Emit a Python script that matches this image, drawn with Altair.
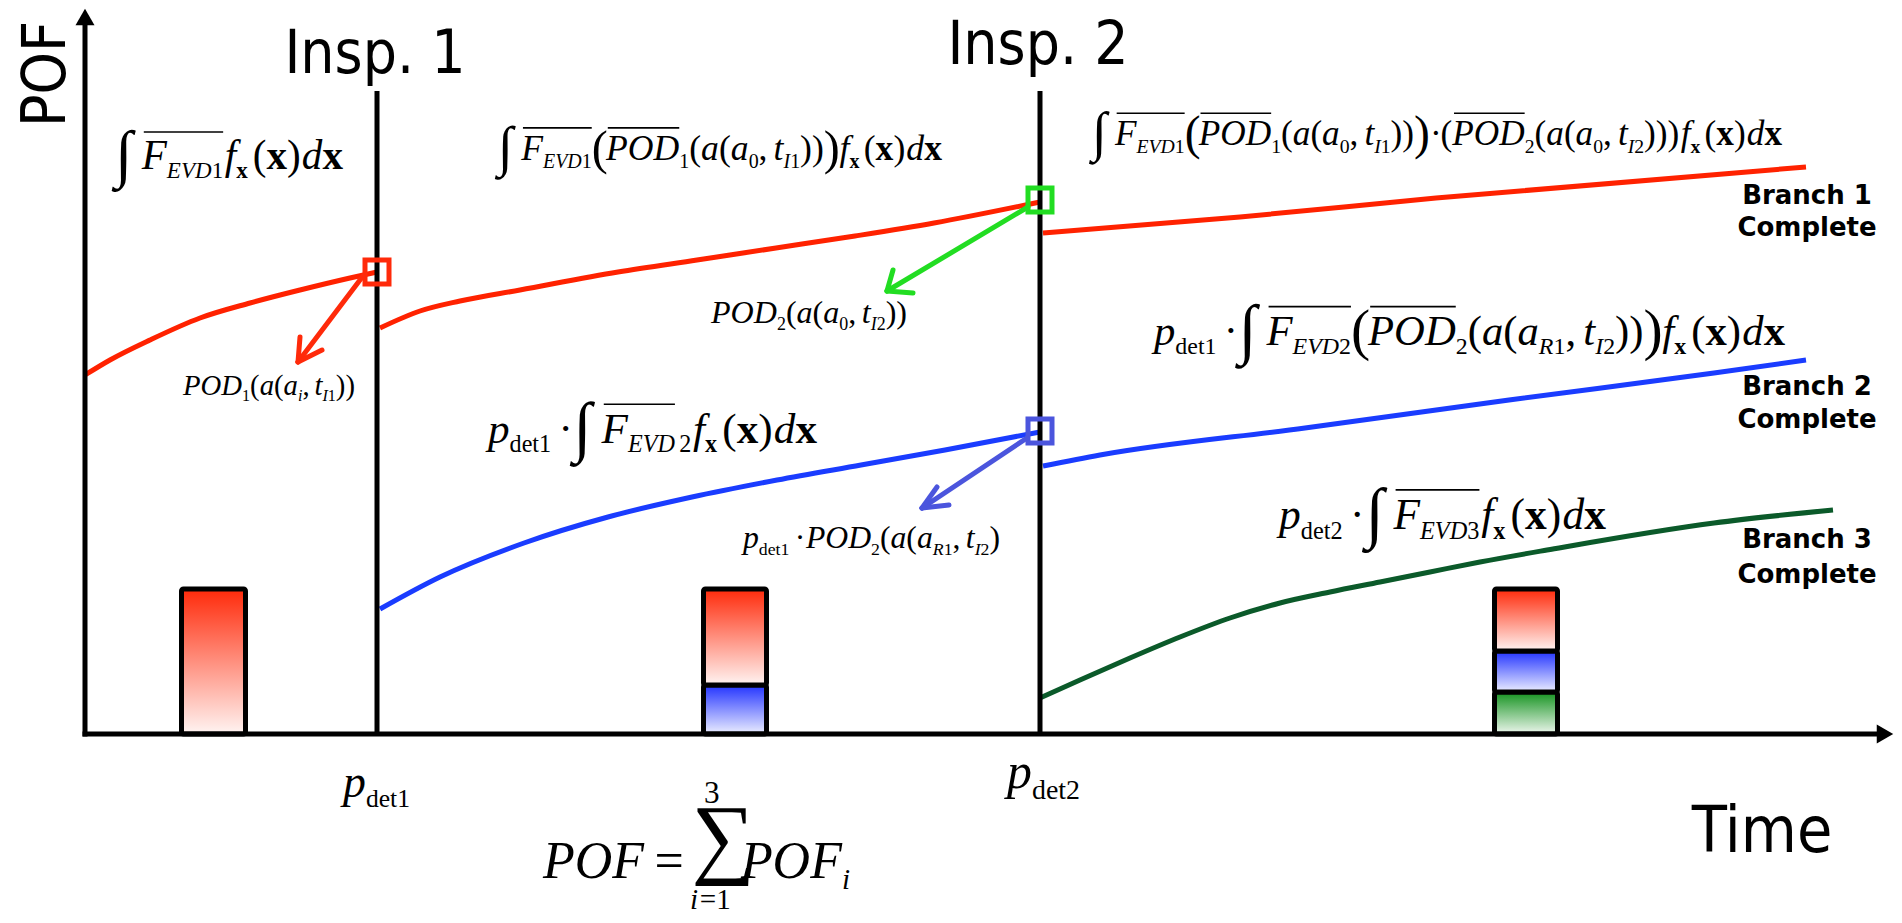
import altair as alt
import pandas as pd

# ---------------- chart frame ----------------
W, H = 1886, 907
XDOM = [-7.7, 180.9]     # time (arbitrary units)
YDOM = [-18.1, 72.6]     # POF (arbitrary units)
PXT = W / (XDOM[1] - XDOM[0])
PXP = H / (YDOM[1] - YDOM[0])

# ---------------- data ----------------
RED1_T = [0.0, 2.5, 6.5, 11.5, 16.5, 21.5, 26.5, 29.2]
RED1_P = [35.9, 37.4, 39.4, 41.6, 43.1, 44.4, 45.6, 46.2]
RED2_T = [29.5, 33.5, 37.5, 43.5, 53.3, 61.2, 69.1, 77.0, 84.9, 95.5]
RED2_P = [40.6, 42.3, 43.3, 44.4, 46.2, 47.4, 48.6, 49.8, 51.1, 53.2]
RED3_T = [95.8, 115.5, 135.1, 172.1]
RED3_P = [50.1, 51.7, 53.6, 56.7]
BLUE1_T = [29.5, 35.5, 43.9, 52.3, 60.7, 69.2, 77.6, 86.0, 95.5]
BLUE1_P = [12.5, 15.7, 19.1, 21.7, 23.7, 25.4, 26.9, 28.4, 30.2]
BLUE2_T = [95.8, 101.5, 122.0, 142.4, 162.9, 172.1]
BLUE2_P = [26.8, 27.9, 30.6, 33.4, 36.1, 37.4]
GREEN_T = [95.5, 99.5, 104.5, 109.5, 114.5, 119.5, 124.5, 129.5, 134.5, 139.5, 146.2, 162.9, 174.8]
GREEN_P = [3.6, 5.4, 7.6, 9.7, 11.6, 13.1, 14.2, 15.2, 16.2, 17.2, 18.4, 21.1, 22.4]

INSP_LABELS = ["Insp. 1", "Insp. 2"]
INSP_T = [29.2, 95.5]
INSP_TOP = 64.3
INSP_LABEL_P = [66.1, 67.0]

# stacked POF bars (green at bottom, then blue, then red)
BAR_T0 = [9.65, 61.85, 140.95]
BAR_T1 = [16.05, 68.15, 147.25]
BAR_GREEN = [0.0, 0.0, 4.2]
BAR_BLUE = [0.0, 4.9, 4.1]
BAR_RED = [14.5, 9.6, 6.2]

# marked points (squares) where the branches split
SQ_T = [29.2, 95.5, 95.5]
SQ_P = [46.2, 53.4, 30.3]
SQ_COL = ["#ff2a0a", "#22dd22", "#4b55dd"]

# arrows: start, tip, two head ends
ARROW_COL = ["#ff2a0a", "#22dd22", "#4b55dd"]
ARROW_START = [(27.8, 45.8), (94.3, 52.7), (94.2, 29.6)]
ARROW_TIP = [(21.3, 37.2), (80.2, 44.3), (83.7, 22.6)]
ARROW_H1 = [(21.5, 39.7), (80.8, 46.4), (85.2, 24.7)]
ARROW_H2 = [(23.7, 38.4), (82.8, 44.1), (86.4, 22.9)]

BRANCH_LINES = ["Branch 1", "Complete", "Branch 2", "Complete", "Branch 3", "Complete"]
BRANCH_T = 172.2
BRANCH_P = [53.0, 49.8, 33.9, 30.6, 18.6, 15.1]

# ---------------- formula typesetting helper ----------------
ROM = {'(': 333, ')': 333, ',': 250, '0': 500, '1': 500, '2': 500, '3': 500,
       'd': 500, 'e': 444, 't': 278, '=': 564, '·': 250, ' ': 250}
ITA = {'F': 611, 'E': 611, 'V': 611, 'D': 722, 'P': 611, 'O': 722, 'R': 611,
       'I': 333, 'a': 500, 'd': 500, 'f': 278, 't': 278, 'p': 500, 'i': 278, 'x': 444}
BLD = {'x': 500}
SUB = 0.56


def run_em(r):
    k = r[0]
    if k in ('r', 'i', 'b'):
        tbl = {'r': ROM, 'i': ITA, 'b': BLD}[k]
        w = sum(tbl[c] for c in r[1]) / 1000
        return w * (SUB if len(r) > 2 and r[2] else 1)
    if k == 'int':
        return 0.65
    if k == 'bp':
        return 0.40
    if k == 'sum':
        return 0.9
    if k == 'gap':
        return r[1]
    return 0.0


text_rows = []
over_rows = []


def layout(runs, t0, t1, p0):
    total = sum(run_em(r) for r in runs)
    S = (t1 - t0) * PXT / total
    t = t0
    ov = None
    for r in runs:
        k = r[0]
        w = run_em(r) * S / PXT
        if k in ('r', 'i', 'b'):
            sub = len(r) > 2 and r[2]
            text_rows.append(dict(t=t, p=p0 - (0.22 * S / PXP if sub else 0), text=r[1],
                                  size=S * (SUB if sub else 1), font=k))
        elif k == 'int':
            text_rows.append(dict(t=t, p=p0 - 0.14 * S / PXP, text='∫', size=1.55 * S, font='r'))
        elif k == 'bp':
            text_rows.append(dict(t=t, p=p0 - 0.1 * S / PXP, text=r[1], size=1.35 * S, font='r'))
        elif k == 'sum':
            text_rows.append(dict(t=t, p=p0 + 0.21 * S / PXP, text='∑', size=1.72 * S, font='r'))
            tc = t + 0.39 * S / PXT
            text_rows.append(dict(t=tc - 0.15 * S / PXT, p=p0 + 1.45 * S / PXP, text='3', size=0.6 * S, font='r'))
            s0 = tc - 0.42 * S / PXT
            pl = p0 - 0.6 * S / PXP
            text_rows.append(dict(t=s0, p=pl, text='i', size=0.56 * S, font='i'))
            text_rows.append(dict(t=s0 + 0.19 * S / PXT, p=pl, text='=1', size=0.56 * S, font='r'))
        elif k == 'ov[':
            ov = t
        elif k == 'ov]':
            over_rows.append(dict(t=ov + 0.05 * S / PXT, t2=t, p=p0 + 0.9 * S / PXP))
        t += w


OV0, OV1 = ('ov[',), ('ov]',)
TAIL = [('gap', .04), ('i', 'f'), ('b', 'x', 1), ('gap', .12), ('r', '('), ('b', 'x'), ('r', ')'),
        ('gap', .03), ('i', 'd'), ('b', 'x')]
FEVD1 = [('int',), OV0, ('i', 'F'), ('i', 'EVD', 1), ('r', '1', 1), OV1]
POD1_A0 = [('bp', '('), OV0, ('i', 'POD'), OV1, ('r', '1', 1), ('r', '('), ('i', 'a'), ('r', '('), ('i', 'a'),
           ('r', '0', 1), ('r', ','), ('gap', .17), ('i', 't'), ('i', 'I', 1), ('r', '1', 1), ('r', '))'),
           ('bp', ')')]
DOT = [('gap', .17), ('r', '·'), ('gap', .1)]

FORMULAS = [
    (FEVD1 + TAIL, 3.0, 25.8, 56.5),
    (FEVD1 + POD1_A0 + TAIL, 41.3, 85.7, 57.4),
    (FEVD1 + POD1_A0 + [('gap', .05), ('r', '·'), ('gap', .05), ('r', '('), OV0, ('i', 'POD'), OV1,
                         ('r', '2', 1), ('r', '('), ('i', 'a'), ('r', '('), ('i', 'a'), ('r', '0', 1),
                         ('r', ','), ('gap', .17), ('i', 't'), ('i', 'I', 1), ('r', '2', 1),
                         ('r', ')))')] + TAIL, 100.7, 169.7, 58.9),
    ([('i', 'p'), ('r', 'det1', 1)] + DOT + [('int',), OV0, ('i', 'F'), ('i', 'EVD', 1), ('r', '2', 1), OV1,
                                             ('bp', '('), OV0, ('i', 'POD'), OV1, ('r', '2', 1), ('r', '('),
                                             ('i', 'a'), ('r', '('), ('i', 'a'), ('i', 'R', 1), ('r', '1', 1),
                                             ('r', ','), ('gap', .17), ('i', 't'), ('i', 'I', 1), ('r', '2', 1),
                                             ('r', '))'), ('bp', ')')] + TAIL, 106.9, 170.0, 38.9),
    ([('i', 'p'), ('r', 'det1', 1)] + DOT + [('int',), OV0, ('i', 'F'), ('i', 'EVD', 1), OV1, ('gap', .1),
                                             ('r', '2', 1)] + TAIL, 40.3, 73.2, 29.1),
    ([('i', 'p'), ('r', 'det2', 1)] + DOT + [('int',), OV0, ('i', 'F'), ('i', 'EVD', 1), ('r', '3', 1), OV1]
     + TAIL, 119.4, 152.1, 20.5),
    ([('i', 'POD'), ('r', '1', 1), ('r', '('), ('i', 'a'), ('r', '('), ('i', 'a'), ('i', 'i', 1), ('r', ','),
      ('gap', .17), ('i', 't'), ('i', 'I', 1), ('r', '1', 1), ('r', '))')], 9.8, 27.0, 33.9),
    ([('i', 'POD'), ('r', '2', 1), ('r', '('), ('i', 'a'), ('r', '('), ('i', 'a'), ('r', '0', 1), ('r', ','),
      ('gap', .17), ('i', 't'), ('i', 'I', 1), ('r', '2', 1), ('r', '))')], 62.6, 82.2, 41.1),
    ([('i', 'p'), ('r', 'det1', 1)] + DOT + [('i', 'POD'), ('r', '2', 1), ('r', '('), ('i', 'a'), ('r', '('),
                                             ('i', 'a'), ('i', 'R', 1), ('r', '1', 1), ('r', ','), ('gap', .17),
                                             ('i', 't'), ('i', 'I', 1), ('r', '2', 1), ('r', ')')],
     65.8, 91.5, 18.6),
    ([('i', 'POF'), ('gap', .2), ('r', '='), ('gap', .15), ('sum',), ('gap', .05), ('i', 'POF'),
      ('i', 'i', 1)], 45.8, 76.5, -14.4),
    ([('i', 'p'), ('r', 'det1', 1)], 25.8, 32.5, -6.3),
    ([('i', 'p'), ('r', 'det2', 1)], 92.2, 99.5, -5.4),
]
for runs, t0, t1, p0 in FORMULAS:
    layout(runs, t0, t1, p0)

# ---------------- build chart ----------------
XS = alt.Scale(domain=XDOM, nice=False, zero=False)
YS = alt.Scale(domain=YDOM, nice=False, zero=False)


def ex(f='t'):
    return alt.X(f + ':Q', scale=XS, axis=None)


def ey(f='p'):
    return alt.Y(f + ':Q', scale=YS, axis=None)


# curves
rows = []
for name, ts, ps, col in [("r1", RED1_T, RED1_P, "#ff2200"), ("r2", RED2_T, RED2_P, "#ff2200"),
                          ("r3", RED3_T, RED3_P, "#ff2200"), ("b1", BLUE1_T, BLUE1_P, "#1a3cff"),
                          ("b2", BLUE2_T, BLUE2_P, "#1a3cff"), ("g", GREEN_T, GREEN_P, "#0b5a2a")]:
    for i, (t, p) in enumerate(zip(ts, ps)):
        rows.append(dict(seg=name, t=t, p=p, col=col, i=i))
curves = alt.Chart(pd.DataFrame(rows)).mark_line(strokeWidth=5, interpolate="monotone").encode(
    x=ex(), y=ey(), color=alt.Color("col:N", scale=None), detail="seg:N", order="i:Q")


# bars
def bar_layer(lo, hi, c0, c1):
    recs = [dict(t=a, t2=b, p=l, p2=h) for a, b, l, h in zip(BAR_T0, BAR_T1, lo, hi) if h > l]
    grad = alt.LinearGradient(gradient="linear", x1=0, x2=0, y1=0, y2=1,
                              stops=[alt.GradientStop(color=c0, offset=0), alt.GradientStop(color=c1, offset=1)])
    return alt.Chart(pd.DataFrame(recs)).mark_rect(fill=grad, stroke="black", strokeWidth=5, cornerRadius=2).encode(
        x=ex(), x2="t2:Q", y=ey(), y2="p2:Q")


g_top = BAR_GREEN
b_top = [g + b for g, b in zip(BAR_GREEN, BAR_BLUE)]
r_top = [b + r for b, r in zip(b_top, BAR_RED)]
bars = [bar_layer([0] * 3, g_top, "#14921f", "#eef7ee"),
        bar_layer(g_top, b_top, "#2233ff", "#eceeff"),
        bar_layer(b_top, r_top, "#ff2a0a", "#fff4f2")]

# axes and inspection lines
frame = pd.DataFrame([
    dict(t=0, p=-0.25, t2=0, p2=70.9),
    dict(t=-0.25, p=0, t2=179.3, p2=0),
] + [dict(t=x, p=0, t2=x, p2=INSP_TOP) for x in INSP_T])
frame_rules = alt.Chart(frame).mark_rule(strokeWidth=5, color="black").encode(
    x=ex(), y=ey(), x2="t2:Q", y2="p2:Q")
heads = alt.Chart(pd.DataFrame([dict(t=0, p=71.7, s="triangle-up"), dict(t=180.0, p=0, s="triangle-right")])
                  ).mark_point(filled=True, color="black", size=361, opacity=1).encode(
    x=ex(), y=ey(), shape=alt.Shape("s:N", scale=None))

# arrows
arr = []
for c, s, tip, h1, h2 in zip(ARROW_COL, ARROW_START, ARROW_TIP, ARROW_H1, ARROW_H2):
    for a, b in [(s, tip), (tip, h1), (tip, h2)]:
        arr.append(dict(t=a[0], p=a[1], t2=b[0], p2=b[1], col=c))
arrows = alt.Chart(pd.DataFrame(arr)).mark_rule(strokeWidth=5, strokeCap="round").encode(
    x=ex(), y=ey(), x2="t2:Q", y2="p2:Q", color=alt.Color("col:N", scale=None))

squares = alt.Chart(pd.DataFrame(dict(t=SQ_T, p=SQ_P, col=SQ_COL))).mark_point(
    shape="square", filled=False, strokeWidth=5, size=576, opacity=1).encode(
    x=ex(), y=ey(), color=alt.Color("col:N", scale=None))

# formulas
tdf = pd.DataFrame(text_rows)
SERIF = "Liberation Serif"


def text_layer(kind, **kw):
    return alt.Chart(tdf[tdf.font == kind]).mark_text(
        font=SERIF, align="left", baseline="alphabetic", color="black", **kw).encode(
        x=ex(), y=ey(), text="text:N", size=alt.Size("size:Q", scale=None))


formula_layers = [text_layer("i", fontStyle="italic"), text_layer("r"), text_layer("b", fontWeight="bold")]
overlines = alt.Chart(pd.DataFrame(over_rows)).mark_rule(strokeWidth=1.6, color="black").encode(
    x=ex(), x2="t2:Q", y=ey())

SANS = "DejaVu Sans Condensed, DejaVu Sans"
insp_text = alt.Chart(pd.DataFrame(dict(t=[x - 0.2 for x in INSP_T], p=INSP_LABEL_P, text=INSP_LABELS))).mark_text(
    font=SANS, fontSize=60, align="center", baseline="alphabetic", color="black").encode(
    x=ex(), y=ey(), text="text:N")
time_text = alt.Chart(pd.DataFrame(dict(t=[167.7], p=[-11.8], text=["Time"]))).mark_text(
    font=SANS, fontSize=64, align="center", baseline="alphabetic", color="black").encode(
    x=ex(), y=ey(), text="text:N")
pof_text = alt.Chart(pd.DataFrame(dict(t=[-2.05], p=[66.0], text=["POF"]))).mark_text(
    font=SANS, fontSize=60, align="center", baseline="alphabetic", angle=270, color="black").encode(
    x=ex(), y=ey(), text="text:N")
branch_text = alt.Chart(pd.DataFrame(dict(t=[BRANCH_T] * 6, p=BRANCH_P, text=BRANCH_LINES))).mark_text(
    font="DejaVu Sans", fontSize=26, fontWeight="bold", align="center", baseline="alphabetic",
    color="black").encode(x=ex(), y=ey(), text="text:N")

chart = alt.layer(
    *bars, curves, frame_rules, heads, squares, arrows, overlines, *formula_layers,
    insp_text, time_text, pof_text, branch_text
).properties(
    width=W, height=H, padding=0, autosize=alt.AutoSizeParams(type="none"), background="white"
).configure_view(stroke=None)

chart.save("out.html", embed_options={"renderer": "svg", "actions": False})
